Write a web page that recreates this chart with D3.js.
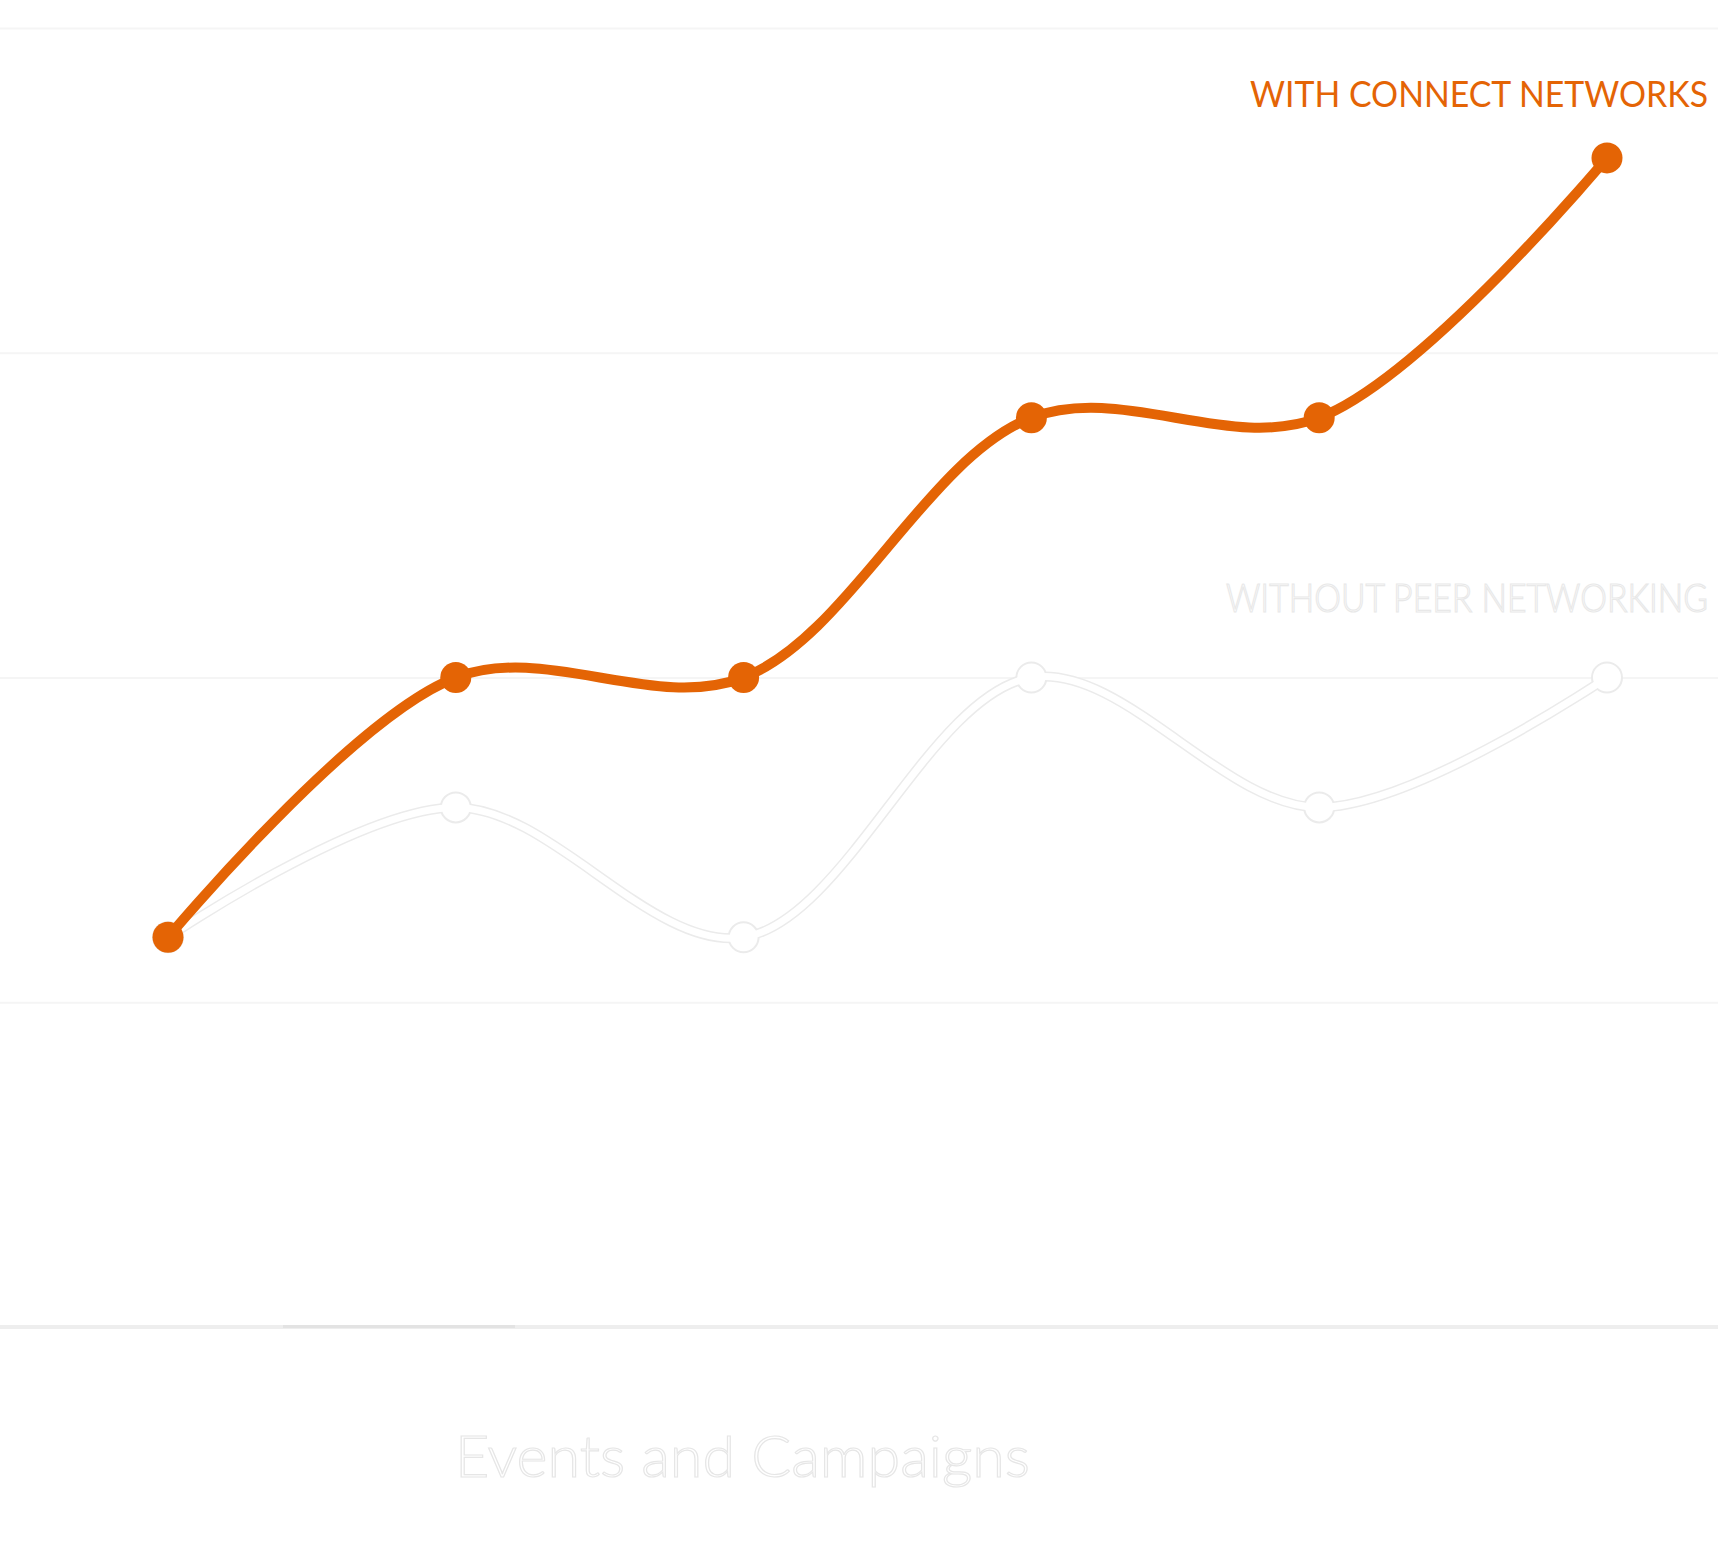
<!DOCTYPE html>
<html>
<head>
<meta charset="utf-8">
<script src="https://cdn.jsdelivr.net/npm/d3@7"></script>
<style>
  html, body { margin: 0; padding: 0; background: #fff; }
  svg { display: block; }
  .label { font-family: 'Lato', 'DejaVu Sans', sans-serif; font-weight: 300; }
  .label.strong { font-weight: 400; }
</style>
</head>
<body>
<svg id="chart"></svg>
<script>
// Data
const categories = ['1', '2', '3', '4', '5', '6'];
const withConnect = [30, 50, 50, 70, 70, 90];
const withoutPeer = [30, 40, 30, 50, 40, 50];
const yTicks = [0, 25, 50, 75, 100];

const W = 1718, H = 1541;
const orange = '#e46405';
const outline = '#ebebeb';

const svg = d3.select('#chart')
    .attr('width', W)
    .attr('height', H);

const x = d3.scalePoint()
    .domain(categories)
    .range([168, 1607]);

const y = d3.scaleLinear()
    .domain([0, 100])
    .range([1327, 28]);

// Horizontal gridlines
const yAxis = d3.axisRight(y)
    .tickValues(yTicks.slice(1))
    .tickSize(W)
    .tickFormat('');

svg.append('g')
    .call(yAxis)
    .call(g => g.select('.domain').remove())
    .call(g => g.selectAll('.tick line')
        .attr('stroke', '#f5f5f5')
        .attr('stroke-width', 2));

// Baseline (x axis)
svg.append('rect')
    .attr('x', 0)
    .attr('y', y(0) - 2)
    .attr('width', W)
    .attr('height', 4)
    .attr('fill', '#eeeeee');
svg.append('rect')
    .attr('x', 283)
    .attr('y', y(0) - 2)
    .attr('width', 232)
    .attr('height', 3)
    .attr('fill', '#e3e3e3');

const line = d3.line()
    .x((d, i) => x(categories[i]))
    .y(d => y(d))
    .curve(d3.curveCatmullRom.alpha(0.5));

// "Without peer networking" series: white line with a faint outline
svg.append('path')
    .datum(withoutPeer)
    .attr('d', line)
    .attr('fill', 'none')
    .attr('stroke', outline)
    .attr('stroke-width', 10);

svg.append('g')
    .selectAll('circle')
    .data(withoutPeer)
    .join('circle')
    .attr('cx', (d, i) => x(categories[i]))
    .attr('cy', d => y(d))
    .attr('r', 15)
    .attr('fill', '#fff')
    .attr('stroke', outline)
    .attr('stroke-width', 2);

svg.append('path')
    .datum(withoutPeer)
    .attr('d', line)
    .attr('fill', 'none')
    .attr('stroke', '#fff')
    .attr('stroke-width', 7);

// "With connect networks" series
svg.append('path')
    .datum(withConnect)
    .attr('d', line)
    .attr('fill', 'none')
    .attr('stroke', orange)
    .attr('stroke-width', 10)
    .attr('stroke-linecap', 'round');

svg.append('g')
    .selectAll('circle')
    .data(withConnect)
    .join('circle')
    .attr('cx', (d, i) => x(categories[i]))
    .attr('cy', d => y(d))
    .attr('r', 15.5)
    .attr('fill', orange);

// Series labels
svg.append('text')
    .attr('class', 'label strong')
    .attr('x', 1708)
    .attr('y', 107)
    .attr('text-anchor', 'end')
    .attr('font-size', 36)
    .attr('textLength', 458)
    .attr('lengthAdjust', 'spacingAndGlyphs')
    .attr('fill', orange)
    .text('WITH CONNECT NETWORKS');

svg.append('text')
    .attr('class', 'label')
    .attr('x', 1708)
    .attr('y', 612)
    .attr('text-anchor', 'end')
    .attr('font-size', 39)
    .attr('textLength', 482)
    .attr('lengthAdjust', 'spacingAndGlyphs')
    .attr('fill', '#fff')
    .attr('stroke', '#e8e8e8')
    .attr('stroke-width', 1.2)
    .text('WITHOUT PEER NETWORKING');

// Axis title
svg.append('text')
    .attr('class', 'label')
    .attr('x', 455)
    .attr('y', 1477)
    .attr('font-size', 58)
    .attr('textLength', 575)
    .attr('lengthAdjust', 'spacingAndGlyphs')
    .attr('fill', '#fff')
    .attr('stroke', '#e6e6e6')
    .attr('stroke-width', 1.2)
    .text('Events and Campaigns');
</script>
</body>
</html>
